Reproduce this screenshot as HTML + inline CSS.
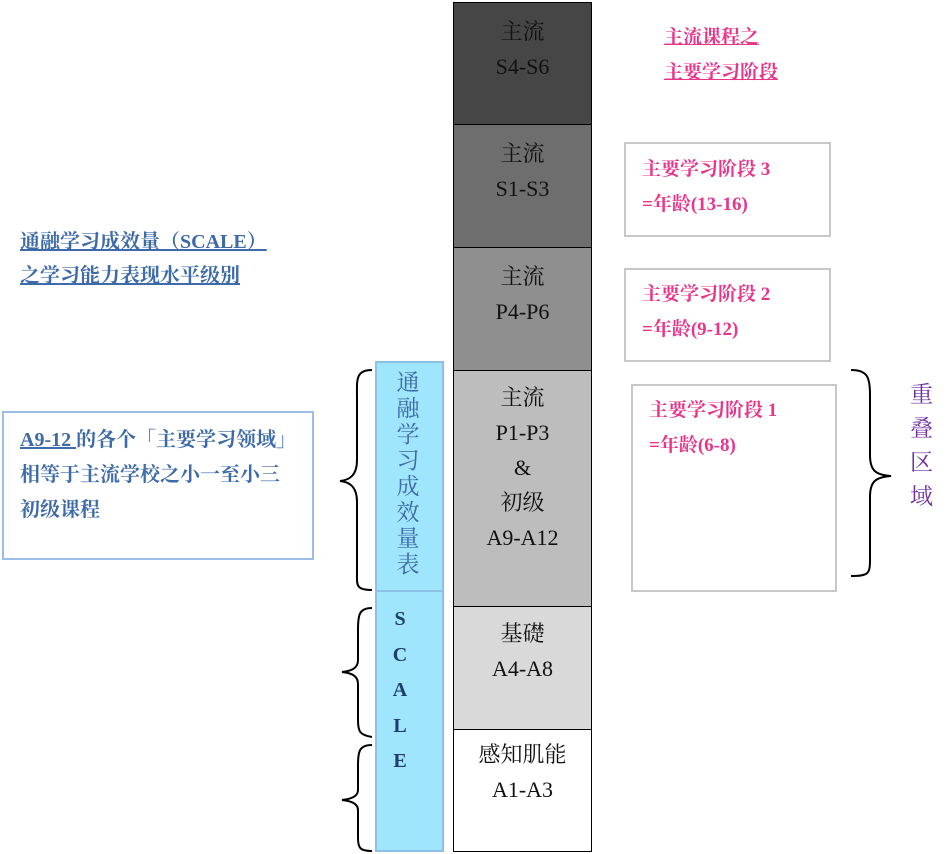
<!DOCTYPE html>
<html><head><meta charset="utf-8"><style>
body{margin:0;width:950px;height:854px;background:#fff;position:relative;overflow:hidden;font-family:"Liberation Serif","Noto Serif CJK SC",serif}
.a{position:absolute}
.seg{position:absolute;left:453px;width:139px;border:1px solid #000;box-sizing:border-box;text-align:center;font-size:22px;line-height:35px;color:#111}
.pk{color:#e8358a;font-weight:bold;font-size:19px;line-height:35px}
.bx{position:absolute;border:2px solid #c8c8c8;box-sizing:border-box}
.bl{color:#3d6aa8;font-weight:bold;font-size:20px}
.v span{display:block;height:26px;line-height:26px}
</style></head><body>
<div class="seg" style="top:2px;height:123px;background:#464646;padding-top:11px">主流<br>S4-S6</div>
<div class="seg" style="top:124px;height:124px;background:#6e6e6e;padding-top:11px">主流<br>S1-S3</div>
<div class="seg" style="top:247px;height:124px;background:#8f8f8f;padding-top:11px">主流<br>P4-P6</div>
<div class="seg" style="top:370px;height:237px;background:#bdbdbd;padding-top:9px">主流<br>P1-P3<br>&amp;<br>初级<br>A9-A12</div>
<div class="seg" style="top:606px;height:124px;background:#d9d9d9;padding-top:9px">基礎<br>A4-A8</div>
<div class="seg" style="top:729px;height:123px;background:#fff;padding-top:7px">感知肌能<br>A1-A3</div>

<div class="a" style="left:375px;top:361px;width:69px;height:231px;background:#9fe5fb;border:2px solid #8cc0e8;box-sizing:border-box"></div>
<div class="a" style="left:375px;top:590px;width:69px;height:262px;background:#9fe5fb;border:2px solid #8cc0e8;box-sizing:border-box"></div>
<div class="a v" style="left:394px;top:370px;width:28px;font-size:23px;color:#3d6aa8;text-align:center"><span>通</span><span>融</span><span>学</span><span>习</span><span>成</span><span>效</span><span>量</span><span>表</span></div>
<div class="a" style="left:386px;top:602px;width:28px;font-size:20px;line-height:35.5px;color:#1f3d6b;font-weight:bold;text-align:center">S<br>C<br>A<br>L<br>E</div>

<svg class="a" style="left:0;top:0" width="950" height="854">
<g fill="none" stroke="#000" stroke-width="2">
<path d="M372 370 C355 370 357 380 357 400 L357 460 C357 475 350 480 340 481 C350 482 357 487 357 502 L357 570 C357 585 355 590 372 590"/>
<path d="M372 608 C359 608 358 615 358 630 L358 660 C358 668 352 671 342 672 C352 673 358 676 358 684 L358 720 C358 732 360 735 372 737"/>
<path d="M372 745 C359 745 358 752 358 765 L358 790 C358 796 352 799 342 800 C352 801 358 804 358 810 L358 838 C358 848 360 851 372 851"/>
<path d="M851 370 C868 370 870 378 870 395 L870 455 C870 470 875 475 891 476 C875 477 870 482 870 497 L870 560 C870 574 868 576 851 576"/>
</g></svg>

<div class="bx" style="left:624px;top:142px;width:207px;height:95px"></div>
<div class="bx" style="left:624px;top:268px;width:207px;height:94px"></div>
<div class="bx" style="left:631px;top:384px;width:206px;height:208px"></div>
<div class="a pk" style="left:642px;top:152px">主要学习阶段 3<br>=年龄(13-16)</div>
<div class="a pk" style="left:642px;top:277px">主要学习阶段 2<br>=年龄(9-12)</div>
<div class="a pk" style="left:649px;top:393px">主要学习阶段 1<br>=年龄(6-8)</div>
<div class="a pk" style="left:664px;top:20px;text-decoration:underline">主流课程之<br>主要学习阶段</div>

<div class="a" style="left:910px;top:378px;width:26px;font-size:23px;line-height:34px;color:#7030a0">重<br>叠<br>区<br>域</div>

<div class="a bl" style="left:20px;top:225px;line-height:34px;text-decoration:underline">通融学习成效量（SCALE）<br>之学习能力表现水平级别</div>

<div class="a" style="left:2px;top:411px;width:312px;height:149px;border:2px solid #9cbde8;box-sizing:border-box"></div>
<div class="a bl" style="left:20px;top:423px;line-height:35px"><span style="text-decoration:underline">A9-12 </span>的各个「主要学习领域」<br>相等于主流学校之小一至小三<br>初级课程</div>
</body></html>
